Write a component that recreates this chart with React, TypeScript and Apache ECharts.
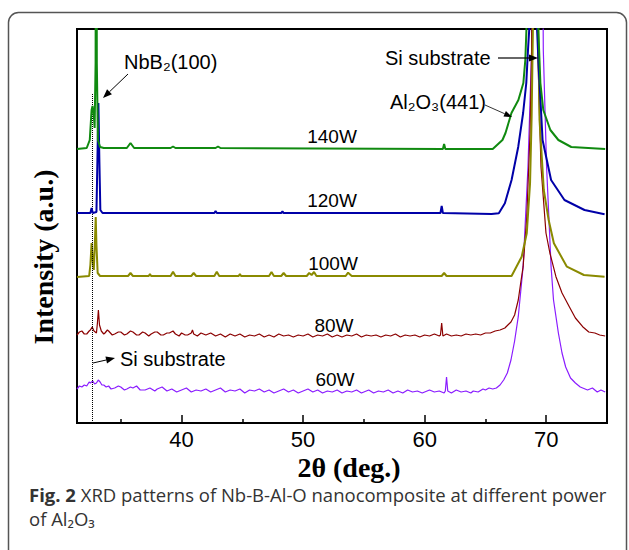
import React, { useEffect, useRef } from "react";
import * as echarts from "echarts";

// ---------- data (2θ in degrees, intensity in arbitrary units incl. stacking offset) ----------
const xMin = 31.4;
const xMax = 75;
const yMax = 394;
const majorTicks = [40, 50, 60, 70];
const minorTicks = [35, 45, 55, 65];
const siLineX = 32.63;
const siLineTop = 330;

const p140W: [number, number][] = [
  [31.4, 274], [32.2, 275], [32.45, 283], [32.6, 313], [32.68, 317], [32.78, 308], [32.85, 295],
  [32.93, 360], [32.98, 800], [33.03, 360], [33.12, 283], [33.3, 276], [33.6, 275], [35.5, 275],
  [35.8, 280], [36.1, 275], [39.1, 275], [39.3, 276.5], [39.5, 275], [42.8, 275], [43.0, 276.5],
  [43.2, 275], [61.5, 274], [61.6, 279], [61.7, 274], [65.6, 274], [66.4, 283], [66.65, 290],
  [67.14, 310], [67.71, 323], [68.12, 340], [68.28, 363], [68.37, 393], [68.6, 900], [69.1, 900],
  [69.35, 393], [69.52, 340], [69.76, 313], [70.34, 293], [71.0, 283], [72.06, 276], [74.85, 274],
];

const p120W: [number, number][] = [
  [31.4, 210], [32.5, 210], [32.6, 215], [32.7, 210], [33.0, 211], [33.08, 263], [33.16, 320],
  [33.24, 263], [33.32, 213], [33.5, 210], [42.7, 210], [42.8, 212], [42.9, 210], [48.2, 210],
  [48.3, 211.5], [48.4, 210], [61.3, 210], [61.4, 217], [61.5, 210], [65.5, 209], [66.1, 209.7],
  [66.6, 219.7], [67.15, 243], [67.7, 276.3], [68.1, 310], [68.36, 340], [68.5, 373], [68.6, 393],
  [68.8, 900], [69.1, 900], [69.25, 393], [69.38, 356.3], [69.7, 283], [70.4, 243], [71.5, 223],
  [73.15, 213], [74.8, 208.7],
];

const p100W: [number, number][] = [
  [31.4, 146], [32.4, 147], [32.5, 158], [32.6, 180], [32.7, 161], [32.78, 153], [32.88, 183],
  [32.94, 206], [33.0, 178], [33.1, 150], [33.3, 147], [35.6, 147], [35.8, 150], [36.0, 147],
  [37.3, 147], [37.4, 149], [37.5, 147], [39.1, 147], [39.3, 151.3], [39.5, 147], [40.8, 147],
  [41.0, 150], [41.2, 147], [42.7, 147], [42.9, 151.3], [43.1, 147], [44.7, 147], [44.8, 149],
  [44.9, 147], [47.2, 147], [47.4, 151], [47.6, 147], [48.2, 147], [48.4, 150], [48.6, 147],
  [50.3, 147], [50.5, 150], [50.7, 148], [50.9, 151], [51.1, 147], [53.5, 147], [53.7, 150.3],
  [54.0, 147], [61.4, 147], [61.6, 150], [61.8, 147], [65.0, 147], [67.15, 147], [67.98, 166.3],
  [68.4, 189.7], [68.67, 239.7], [68.8, 306.3], [68.9, 389.7], [69.1, 900], [69.2, 900],
  [69.35, 389.7], [69.45, 303], [69.8, 233], [70.2, 203], [70.63, 179.7], [71.7, 156.3],
  [73.1, 148], [74.8, 146.3],
];

const p80W: [number, number][] = [
  [31.4, 88], [31.6, 91], [31.8, 92], [32.0, 89], [32.2, 89], [32.4, 92], [32.5, 93], [32.65, 96],
  [32.8, 92], [33.0, 90], [33.08, 100], [33.16, 113], [33.25, 98], [33.4, 92], [33.6, 89], [33.7, 90],
  [33.9, 93], [34.0, 92], [34.3, 88], [34.5, 89], [34.8, 91], [35.0, 91], [35.3, 88], [35.5, 89],
  [35.8, 92], [36.0, 91], [36.3, 88], [36.5, 88], [36.8, 91], [37.0, 90], [37.3, 87], [37.5, 89],
  [37.8, 91], [38.0, 91], [38.3, 88], [38.5, 88], [38.8, 90], [39.0, 90], [39.3, 92], [39.5, 89],
  [39.8, 87], [40.0, 90], [40.3, 88], [40.5, 88], [40.8, 90], [40.9, 93], [41.0, 89], [41.3, 87],
  [41.6, 90], [42.0, 88], [42.4, 90], [42.8, 87], [43.2, 89], [43.6, 86], [44.0, 89], [44.4, 87],
  [44.8, 89], [45.2, 86], [45.6, 88], [46.0, 87], [46.4, 89], [46.8, 86], [47.2, 88], [47.6, 86],
  [48.0, 89], [48.4, 87], [48.8, 88], [49.2, 86], [49.6, 88], [50.0, 87], [50.4, 89], [50.8, 86],
  [51.2, 88], [51.6, 87], [52.0, 89], [52.4, 86], [52.8, 88], [53.2, 86], [53.6, 88], [54.0, 87],
  [54.4, 89], [54.8, 86], [55.2, 88], [55.6, 87], [56.0, 88], [56.4, 86], [56.8, 88], [57.2, 87],
  [57.6, 89], [58.0, 86], [58.4, 88], [58.8, 87], [59.2, 88], [59.6, 86], [60.0, 88], [60.4, 87],
  [60.8, 89], [61.2, 87], [61.3, 88], [61.4, 100], [61.5, 87], [61.8, 89], [62.2, 87], [62.6, 88],
  [63.0, 87], [63.4, 89], [63.8, 88], [64.2, 89], [64.6, 88], [65.0, 90], [65.4, 90], [65.8, 92],
  [66.2, 93], [66.6, 95], [67.1, 101], [67.4, 108], [67.7, 123], [67.9, 140], [68.1, 156.3],
  [68.4, 206.3], [68.67, 290], [68.8, 373], [69.0, 900], [69.2, 900], [69.3, 373], [69.57, 256.3],
  [69.98, 190], [70.3, 170], [70.8, 146.3], [71.3, 130], [71.9, 116.3], [72.4, 105], [73.0, 96.3],
  [73.5, 91], [74.0, 90], [74.4, 88], [74.85, 87],
];

const p60W: [number, number][] = [
  [31.4, 34], [31.6, 37], [31.8, 36], [32.0, 38], [32.2, 37], [32.4, 41], [32.5, 40], [32.7, 42],
  [32.85, 39], [33.0, 40], [33.15, 43], [33.3, 41], [33.45, 38], [33.6, 38], [33.8, 36], [34.0, 37],
  [34.2, 34], [34.5, 35], [34.8, 37], [35.0, 36], [35.3, 33], [35.5, 34], [35.8, 36], [36.0, 35],
  [36.3, 37], [36.6, 33], [37.0, 33], [37.4, 35], [37.8, 32], [38.0, 34], [38.4, 36], [38.8, 32],
  [39.2, 34], [39.6, 31], [40.0, 33], [40.4, 35], [40.8, 31], [41.2, 33], [41.6, 32], [42.0, 34],
  [42.4, 31], [42.8, 33], [43.2, 35], [43.6, 31], [44.0, 33], [44.4, 32], [44.8, 34], [45.2, 30],
  [45.6, 33], [46.0, 32], [46.4, 34], [46.8, 31], [47.2, 33], [47.6, 30], [48.0, 32], [48.4, 34],
  [48.8, 31], [49.2, 33], [49.6, 30], [50.0, 32], [50.4, 34], [50.8, 31], [51.2, 33], [51.6, 30],
  [52.0, 32], [52.4, 31], [52.8, 33], [53.2, 30], [53.6, 32], [54.0, 31], [54.4, 33], [54.8, 30],
  [55.0, 31], [55.4, 33], [55.8, 30], [56.2, 32], [56.6, 31], [57.0, 33], [57.4, 30], [57.8, 32],
  [58.2, 30], [58.6, 33], [59.0, 31], [59.4, 32], [59.8, 30], [60.0, 31], [60.4, 33], [60.8, 31],
  [61.2, 32], [61.6, 30], [61.7, 32], [61.8, 46], [61.9, 32], [62.2, 30], [62.6, 33], [63.0, 31],
  [63.4, 32], [63.8, 30], [64.0, 32], [64.4, 31], [64.8, 34], [65.0, 33], [65.3, 35], [65.6, 34],
  [65.9, 35], [66.2, 38], [66.5, 43], [66.8, 50], [67.1, 63], [67.4, 82], [67.7, 106.3],
  [68.1, 156.3], [68.5, 256.3], [68.8, 373], [69.0, 900], [69.5, 900], [69.76, 373], [70.03, 256.3],
  [70.4, 156.3], [70.6, 123], [71.0, 90], [71.3, 70], [71.6, 56], [72.0, 45], [72.4, 40], [72.8, 36],
  [73.4, 33], [73.8, 35], [74.2, 31], [74.5, 33], [74.85, 31],
];

const seriesNames = ["60W", "80W", "100W", "120W", "140W"];
const seriesData = [p60W, p80W, p100W, p120W, p140W];
const seriesColors = ["#8a1cff", "#8b0000", "#8a8a00", "#0000a8", "#108a10"];
const seriesWidths = [1.2, 1.2, 2, 2, 2];

// ---------- helpers ----------
const SANS = "'Liberation Sans', Arial, sans-serif";
const SERIF = "'Liberation Serif', 'Times New Roman', serif";
const CAPTION = "'Open Sans', 'Noto Sans', sans-serif";

function arrow(x1: number, y1: number, x2: number, y2: number, w: number, len: number, half: number) {
  const dx = x2 - x1;
  const dy = y2 - y1;
  const d = Math.sqrt(dx * dx + dy * dy);
  const ux = dx / d;
  const uy = dy / d;
  const bx = x2 - ux * len;
  const by = y2 - uy * len;
  const px = -uy;
  const py = ux;
  return [
    { type: "line", z: 100, shape: { x1, y1, x2: bx, y2: by }, style: { stroke: "#000", lineWidth: w } },
    {
      type: "polygon",
      z: 100,
      shape: { points: [[x2, y2], [bx + px * half, by + py * half], [bx - px * half, by - py * half]] },
      style: { fill: "#000" },
    },
  ];
}

function label(text: string, x: number, y: number, align: string = "left", size = 20) {
  return {
    type: "text",
    z: 100,
    x,
    y,
    style: { text, fontFamily: SANS, fontSize: size, fill: "#000", align, verticalAlign: "middle" },
  };
}

export default function App() {
  const ref = useRef<HTMLDivElement>(null);

  useEffect(() => {
    if (!ref.current) return;
    const chart = echarts.init(ref.current, null, { renderer: "svg" });

    const series: any[] = seriesNames.map((name, i) => ({
      name,
      type: "line",
      data: seriesData[i],
      showSymbol: false,
      symbol: "none",
      clip: true,
      lineStyle: { color: seriesColors[i], width: seriesWidths[i] },
      itemStyle: { color: seriesColors[i] },
      z: 2 + i,
      silent: true,
    }));
    series[0].markLine = {
      silent: true,
      symbol: ["none", "none"],
      label: { show: false },
      lineStyle: { type: "dotted", color: "#000", width: 1 },
      data: [[{ coord: [siLineX, 0] }, { coord: [siLineX, siLineTop] }]],
    };

    const option: any = {
      animation: false,
      backgroundColor: "#fff",
      grid: {
        left: 77,
        right: 22,
        top: 29,
        bottom: 127,
        show: true,
        borderColor: "#000",
        borderWidth: 2,
        backgroundColor: "transparent",
      },
      xAxis: [
        {
          type: "value",
          min: xMin,
          max: xMax,
          axisLine: { show: true, lineStyle: { color: "#000", width: 2 } },
          axisTick: { show: true, inside: true, length: 8, customValues: majorTicks, lineStyle: { color: "#000", width: 1.5 } },
          axisLabel: { customValues: majorTicks, color: "#000", fontSize: 22, fontFamily: SANS, margin: 5 },
          splitLine: { show: false },
        },
        {
          type: "value",
          min: xMin,
          max: xMax,
          position: "bottom",
          axisLine: { show: false },
          axisTick: { show: true, inside: true, length: 4, customValues: minorTicks, lineStyle: { color: "#000", width: 1.5 } },
          axisLabel: { show: false },
          splitLine: { show: false },
        },
      ],
      yAxis: {
        type: "value",
        min: 0,
        max: yMax,
        axisLine: { show: false },
        axisTick: { show: false },
        axisLabel: { show: false },
        splitLine: { show: false },
      },
      series,
      graphic: [
        {
          type: "rect",
          z: 0,
          shape: { x: 8.5, y: 12.5, width: 618, height: 600, r: 10 },
          style: { fill: "none", stroke: "#555", lineWidth: 1.5 },
        },
        {
          type: "text",
          z: 100,
          x: 43,
          y: 257,
          rotation: Math.PI / 2,
          style: {
            text: "Intensity (a.u.)",
            fontFamily: SERIF,
            fontWeight: "bold",
            fontSize: 28,
            fill: "#000",
            align: "center",
            verticalAlign: "middle",
          },
        },
        {
          type: "text",
          z: 100,
          x: 349,
          y: 467,
          style: {
            text: "2θ (deg.)",
            fontFamily: SERIF,
            fontWeight: "bold",
            fontSize: 28,
            fill: "#000",
            align: "center",
            verticalAlign: "middle",
          },
        },
        label("NbB₂(100)", 124, 62),
        ...arrow(128, 74, 103, 98, 1, 9, 3.5),
        label("Si substrate", 385, 58),
        ...arrow(498, 58, 538, 58, 1.2, 9, 3.5),
        label("Al₂O₃(441)", 390, 102),
        ...arrow(485, 105, 512, 117, 0.8, 8, 3),
        label("140W", 332, 136, "center", 19),
        label("120W", 332, 200, "center", 19),
        label("100W", 333, 263, "center", 19),
        label("80W", 334, 325, "center", 19),
        label("60W", 335, 379, "center", 19),
        label("Si substrate", 120, 359),
        ...arrow(93, 363, 115, 358, 1, 9, 3.5),
        {
          type: "text",
          z: 100,
          x: 29,
          y: 494,
          style: {
            text: "{b|Fig. 2} XRD patterns of Nb-B-Al-O nanocomposite at different power",
            fontFamily: CAPTION,
            fontSize: 18.5,
            fill: "#333",
            verticalAlign: "middle",
            rich: {
              b: { fontFamily: CAPTION, fontSize: 18.5, fontWeight: "bold", fill: "#333" },
            },
          },
        },
        {
          type: "text",
          z: 100,
          x: 29,
          y: 518,
          style: {
            text: "of Al₂O₃",
            fontFamily: CAPTION,
            fontSize: 18.5,
            fill: "#333",
            verticalAlign: "middle",
          },
        },
      ],
    };

    chart.setOption(option);
    return () => chart.dispose();
  }, []);

  return (
    <div
      ref={ref}
      style={{ position: "fixed", left: 0, top: 0, width: 629, height: 550, background: "#fff" }}
    />
  );
}
